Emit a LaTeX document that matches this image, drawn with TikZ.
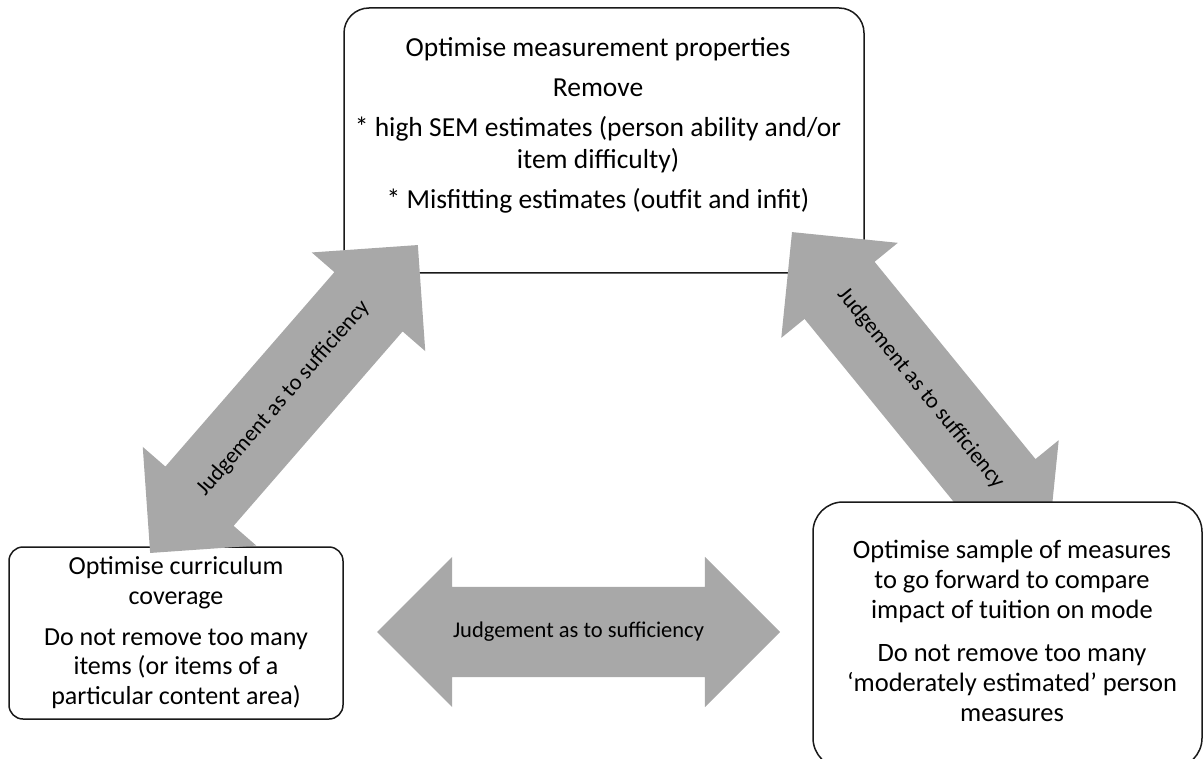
\documentclass[tikz,border=0pt]{standalone}
\usepackage{fontspec}
\setmainfont{Carlito}
\usetikzlibrary{shapes.arrows}
\usetikzlibrary{positioning}
\definecolor{judgegray}{HTML}{A8A8A8}
\tikzset{
  roundbox/.style={draw=black!90, line width=1.5pt, fill=white, inner sep=0pt},
  boxtext/.style={align=center, inner sep=0pt},
  judgearrow/.style={double arrow, fill=judgegray, draw=none, minimum width=150pt,
    double arrow head extend=30pt, double arrow tip angle=90,
    text height=16pt, text depth=6pt, inner xsep=0pt, inner ysep=34pt,
    font=\fontsize{22.5}{27}\selectfont}
}
\newcommand{\judgement}[4]{\node[judgearrow, minimum height=#3pt, rotate=#4] (#1) at (#2) {Judgement as to sufficiency};}

\begin{document}
\begin{tikzpicture}[x=1pt, y=-1pt]
        \useasboundingbox (0,0) rectangle (1204,759);

        % top box
        \node[roundbox, rounded corners=25pt, minimum width=520pt, minimum height=265pt] (measure) at (604,140.5) {};
        \node[boxtext, font=\fontsize{27.5}{32}\selectfont] (measuretext) at (598,125)
          {Optimise measurement properties\\[8pt]
           Remove\\[8pt]
           * high SEM estimates (person ability and/or\\
           item difficulty)\\[8pt]
           * Misfitting estimates (outfit and infit)};

        % left box
        \node[roundbox, rounded corners=14pt, minimum width=334pt, minimum height=172pt] (curriculum) at (176,633) {};
        \node[boxtext, font=\fontsize{26}{29.5}\selectfont] (curriculumtext) at (176,632.5)
          {Optimise curriculum\\
           coverage\\[11.5pt]
           Do not remove too many\\
           items (or items of a\\
           particular content area)};

        % arrows
        \judgement{leftjudge}{284,399}{408}{49}
        \judgement{rightjudge}{920,389}{405}{-50.8}
        \judgement{bottomjudge}{578.5,632}{403}{0}

        % right box
        \node[roundbox, rounded corners=30pt, minimum width=389pt, minimum height=266pt] (sample) at (1007.5,635) {};
        \node[boxtext, font=\fontsize{26.5}{30}\selectfont] (sampletext) at (1012,631)
          {Optimise sample of measures\\
           to go forward to compare\\
           impact of tuition on mode\\[13pt]
           Do not remove too many\\
           ‘moderately estimated’ person\\
           measures};

    \end{tikzpicture}
\end{document}
